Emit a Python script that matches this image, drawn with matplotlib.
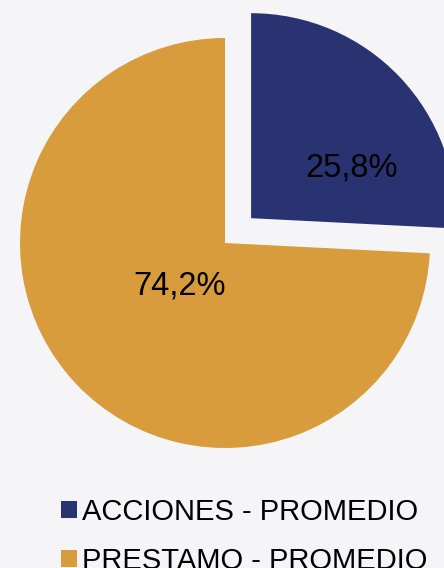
import matplotlib.pyplot as plt
from matplotlib.patches import Patch

# data
labels = ['ACCIONES - PROMEDIO', 'PRESTAMO - PROMEDIO']
values = [25.8, 74.2]
pct_text = ['25,8%', '74,2%']
colors = ['#2a3372', '#d89c3c']
bg = '#f5f5f8'

plt.rcParams['font.family'] = ['Liberation Sans', 'DejaVu Sans']

fig = plt.figure(figsize=(4.44, 5.68), dpi=100, facecolor=bg)
ax = fig.add_axes([0, 0, 1, 1])
ax.set_facecolor(bg)

r = 205
cx, cy = 225, 325
# explode is in data units here (pixels)
wedges, _ = ax.pie(values, colors=colors, startangle=90, counterclock=False,
                   radius=r, center=(cx, cy), explode=[36, 0],
                   wedgeprops=dict(linewidth=0), frame=True)
ax.set_xlim(0, 444)
ax.set_ylim(0, 568)
ax.set_aspect('equal')
ax.axis('off')

# label positions (offsets from pie center, px)
ax.text(cx + 127, cy + 75, pct_text[0], ha='center', va='center', fontsize=23.5)
ax.text(cx - 45, cy - 43, pct_text[1], ha='center', va='center', fontsize=23.5)

handles = [Patch(facecolor=c, edgecolor='none') for c in colors]
leg = ax.legend(handles, labels, loc='upper left', bbox_to_anchor=(61 / 444, 1 - 498 / 568),
                frameon=False, fontsize=21, handlelength=0.55, handleheight=0.55,
                handletextpad=0.17, labelspacing=0.72, borderpad=0, borderaxespad=0)

fig.savefig('out.png', dpi=100, facecolor=bg)
